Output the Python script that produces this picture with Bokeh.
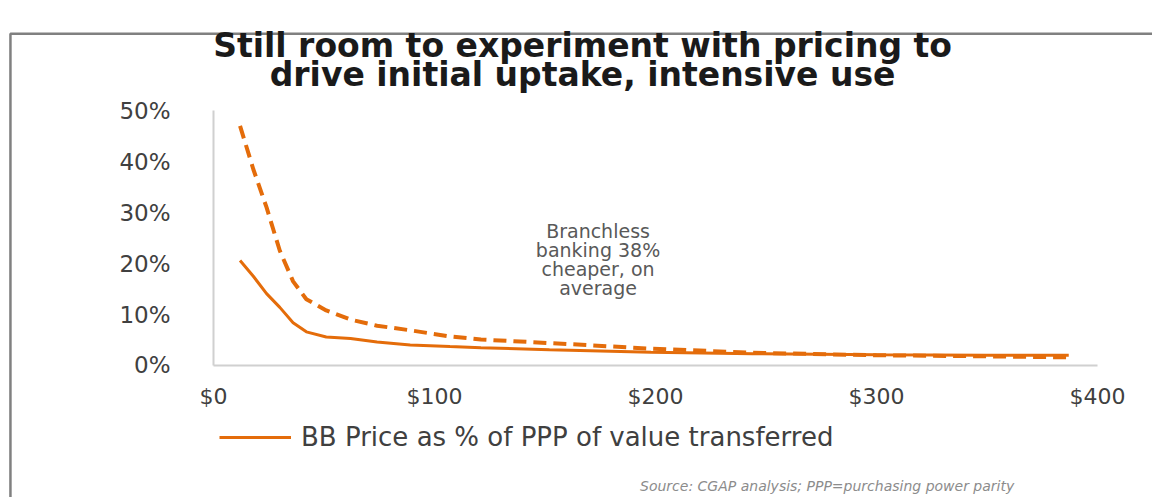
from bokeh.plotting import figure
from bokeh.models import (Range1d, FixedTicker, PrintfTickFormatter, Label, BoxAnnotation,
                          Legend, LegendItem, ColumnDataSource)
from bokeh.embed import file_html
from bokeh.resources import INLINE

# ---- data ----
value_usd = [12, 18, 24, 30, 36, 42, 51, 62, 74, 89, 107, 121, 152, 198, 244, 300, 350, 387]
bb_price_pct = [20.6, 17.5, 14.1, 11.4, 8.4, 6.6, 5.6, 5.3, 4.6, 4.0, 3.7, 3.5, 3.1, 2.6, 2.3, 2.1, 2.0, 2.0]
branch_price_pct = [47.0, 38.5, 31.0, 22.5, 16.5, 13.0, 10.8, 9.0, 7.8, 6.9, 5.7, 5.1, 4.4, 3.3, 2.5, 2.0, 1.8, 1.6]
y_ticks = [0, 10, 20, 30, 40, 50]
x_ticks = [0, 100, 200, 300, 400]
title_lines = ["Still room to experiment with pricing to", "drive initial uptake, intensive use"]
legend_label = "BB Price as % of PPP of value transferred"
note_text = "Branchless\nbanking 38%\ncheaper, on\naverage"
source_text = "Source: CGAP analysis; PPP=purchasing power parity"

# ---- layout (positions in the chart's own data units) ----
X_MIN, X_MAX = -96.4, 424.9
Y_MIN, Y_MAX = -25.9, 71.6
title_x, title_y = [167, 167], [62.7, 57.0]
note_x, note_y = 174, 28.6
source_x, source_y = 193, -22.0
frame_left, frame_top = -91.9, 65.1

ORANGE = "#E46C0A"
TEXT = "#404040"
FONT = "DejaVu Sans"

src = ColumnDataSource(dict(x=value_usd, bb=bb_price_pct, br=branch_price_pct))

p = figure(width=1152, height=497, output_backend="svg", toolbar_location=None,
           x_range=Range1d(X_MIN, X_MAX), y_range=Range1d(Y_MIN, Y_MAX),
           min_border=0)
p.outline_line_color = None
p.xgrid.grid_line_color = None
p.ygrid.grid_line_color = None
p.background_fill_color = "white"
p.border_fill_color = "white"

for ax in (p.xaxis[0], p.yaxis[0]):
    ax.axis_line_color = "#d0d0d0"
    ax.axis_line_width = 2
    ax.major_tick_line_color = None
    ax.minor_tick_line_color = None
    ax.major_tick_out = 0
    ax.major_tick_in = 0
    ax.major_label_text_color = TEXT
    ax.major_label_text_font = FONT
    ax.fixed_location = 0

p.yaxis.ticker = FixedTicker(ticks=y_ticks)
p.yaxis.formatter = PrintfTickFormatter(format="%d%%")
p.yaxis.bounds = (0, 50)
p.yaxis.major_label_standoff = 43
p.yaxis.major_label_text_font_size = "23px"
p.xaxis.ticker = FixedTicker(ticks=x_ticks)
p.xaxis.formatter = PrintfTickFormatter(format="$%d")
p.xaxis.bounds = (0, 400)
p.xaxis.major_label_standoff = 19
p.xaxis.major_label_text_font_size = "22px"

# slide frame
p.add_layout(BoxAnnotation(left=frame_left, top=frame_top, right=X_MAX + 50, bottom=Y_MIN - 50,
                           fill_alpha=0, line_color="#808080", line_alpha=1.0, line_width=2.5))

r_branch = p.line("x", "br", source=src, line_color=ORANGE, line_width=4, line_dash="13 7")
r_bb = p.line("x", "bb", source=src, line_color=ORANGE, line_width=3)

for tx, ty, tt in zip(title_x, title_y, title_lines):
    p.add_layout(Label(x=tx, y=ty, text=tt, text_align="center", text_baseline="middle",
                       text_font=FONT, text_font_style="bold", text_font_size="33px",
                       text_color="#1a1a1a"))

p.add_layout(Label(x=note_x, y=note_y, text=note_text, text_align="center", text_baseline="top",
                   text_font=FONT, text_font_size="19px", text_color="#595959",
                   text_line_height=0.87))

legend = Legend(items=[LegendItem(label=legend_label, renderers=[r_bb])],
                location=(219, 45), orientation="horizontal",
                label_text_font=FONT, label_text_font_size="26px", label_text_color=TEXT,
                glyph_width=72, glyph_height=20, label_standoff=10,
                border_line_color=None, background_fill_alpha=0, margin=0, padding=0)
p.add_layout(legend)

p.add_layout(Label(x=source_x, y=source_y, text=source_text, text_align="left", text_baseline="top",
                   text_font=FONT, text_font_style="italic", text_font_size="14px",
                   text_color="#8c8c8c"))

open("out.html", "w").write(file_html(p, INLINE))
